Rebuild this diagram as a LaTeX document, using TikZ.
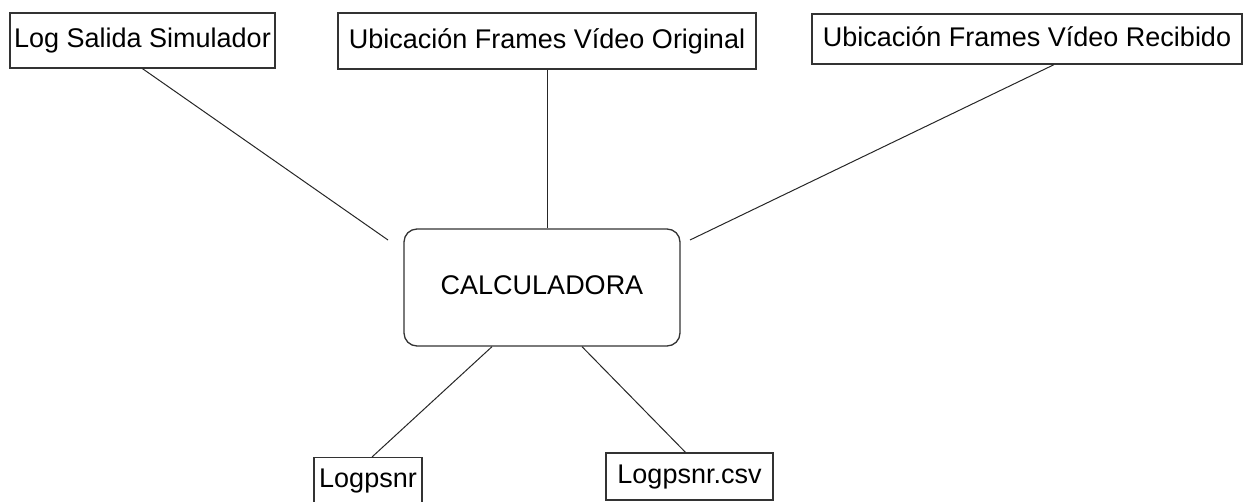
\documentclass[tikz,border=0pt]{standalone}
\usepackage{fontspec}
\setmainfont{Liberation Sans}
\usetikzlibrary{calc}
\definecolor{edge}{HTML}{333333}
\begin{document}
\begin{tikzpicture}[x=1pt,y=-1pt,
  every node/.style={font=\fontsize{27}{32}\selectfont, text height=19.5pt, text depth=5.5pt, inner sep=0pt},
  box/.style={draw=edge, line width=1.3pt, rectangle},
  mainbox/.style={draw=edge, line width=1.3pt, rectangle, rounded corners=13pt},
  link/.style={draw=black!85, line width=1pt}]
\useasboundingbox (0,0) rectangle (1249,501);
\node[box, minimum width=265pt, minimum height=55pt] (b1) at (142.5,40.5) {Log Salida Simulador};
\node[box, minimum width=418pt, minimum height=56pt] (b2) at (547,41) {Ubicación Frames Vídeo Original};
\node[box, minimum width=430pt, minimum height=50pt] (b3) at (1027,39) {Ubicación Frames Vídeo Recibido};
\node[mainbox, minimum width=276pt, minimum height=117pt] (calc) at (542,287.5) {CALCULADORA};
\node[box, minimum width=108pt, inner ysep=10pt, text depth=30pt, anchor=north] (o1) at (368,457) {Logpsnr};
\node[box, minimum width=167pt, minimum height=47pt] (o2) at (689.5,476.5) {Logpsnr.csv};
\coordinate (e1) at (388,240);
\coordinate (e3) at (690,240);
\draw[link] (b1.south) -- (e1);
\draw[link] (b2.south) -- (b2.south |- calc.north);
\draw[link] ($(b3.south)+(27,0)$) -- (e3);
\draw[link] ($(calc.south)+(-50,0)$) -- ($(o1.north)+(4,0)$);
\draw[link] ($(calc.south)+(40,0)$) -- ($(o2.north)+(-4,0)$);
\end{tikzpicture}
\end{document}
